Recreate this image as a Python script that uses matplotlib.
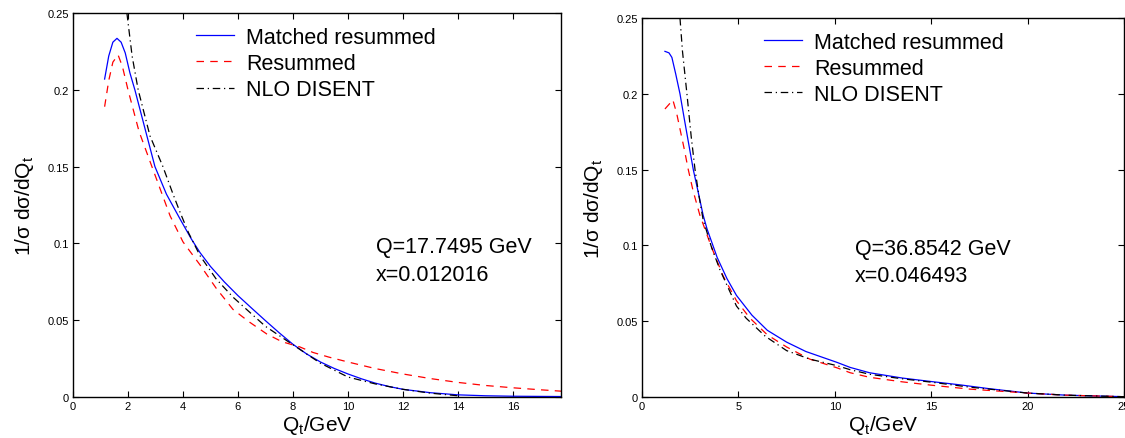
import matplotlib
matplotlib.use("Agg")
import matplotlib.pyplot as plt
from matplotlib.ticker import FormatStrFormatter

plt.rcParams['font.family'] = ['Liberation Sans', 'DejaVu Sans']
plt.rcParams['mathtext.default'] = 'regular'

# ---- Left panel data (Q=17.7495 GeV) ----
l_matched_x = [1.15, 1.3, 1.45, 1.6, 1.75, 1.9, 2.07, 2.25, 2.6, 2.98, 3.4, 3.89, 4.3, 4.62, 5.0, 5.5, 6.0,
               6.5, 7.0, 7.5, 8.0, 8.5, 9.0, 9.5, 10.0, 10.5, 11.0, 11.5, 12.0, 13.0, 14.0, 15.0, 16.0, 17.75]
l_matched_y = [0.207, 0.222, 0.231, 0.2335, 0.231, 0.224, 0.211, 0.200, 0.176, 0.150, 0.132, 0.116, 0.103,
               0.094, 0.085, 0.075, 0.066, 0.0578, 0.0497, 0.0418, 0.0343, 0.028, 0.0228, 0.0186, 0.015,
               0.0118, 0.009, 0.0068, 0.005, 0.0028, 0.0014, 0.0008, 0.0005, 0.0003]
l_resum_x = [1.15, 1.3, 1.45, 1.64, 1.8, 2.0, 2.4, 2.87, 3.53, 4.0, 4.62, 5.2, 5.82, 6.4, 7.05, 7.6,
             8.25, 8.73, 9.3, 10.0, 11.0, 12.0, 13.0, 14.0, 15.0, 16.0, 17.0, 17.75]
l_resum_y = [0.189, 0.206, 0.218, 0.2227, 0.215, 0.200, 0.173, 0.150, 0.118, 0.101, 0.086, 0.071,
             0.057, 0.049, 0.041, 0.036, 0.0326, 0.029, 0.026, 0.0228, 0.0185, 0.015, 0.012, 0.0095, 0.0075,
             0.006, 0.0047, 0.0038]
l_nlo_x = [1.96, 2.15, 2.37, 2.8, 3.27, 3.64, 3.9, 4.2, 4.62, 5.2, 5.82, 6.5, 7.0, 7.5, 8.0, 8.25, 9.0, 10.0,
           11.0, 12.0, 13.0, 14.0]
l_nlo_y = [0.25, 0.222, 0.200, 0.170, 0.150, 0.132, 0.120, 0.107, 0.092, 0.077, 0.065, 0.054, 0.046, 0.040,
           0.034, 0.031, 0.022, 0.013, 0.0085, 0.005, 0.0025, 0.0008]

# ---- Right panel data (Q=36.8542 GeV) ----
r_matched_x = [1.19, 1.4, 1.55, 1.75, 1.97, 2.2, 2.45, 2.66, 2.9, 3.17, 3.37, 3.9, 4.41, 4.9, 5.7, 6.5, 7.5,
               8.5, 10.1, 10.8, 11.8, 13.5, 15.0, 16.5, 18.0, 20.0, 22.0, 25.0]
r_matched_y = [0.228, 0.227, 0.224, 0.213, 0.200, 0.183, 0.165, 0.150, 0.136, 0.120, 0.111, 0.092, 0.078,
               0.067, 0.054, 0.044, 0.0362, 0.030, 0.0229, 0.0195, 0.016, 0.0125, 0.0102, 0.008, 0.0055,
               0.0026, 0.0012, 0.0002]
r_resum_x = [1.19, 1.4, 1.6, 1.8, 2.0, 2.2, 2.4, 2.65, 3.0, 3.6, 4.2, 4.9, 5.6, 6.5, 7.5, 8.7, 10.1, 10.8,
             11.8, 13.5, 15.0, 17.0, 20.0, 22.0, 25.0]
r_resum_y = [0.190, 0.193, 0.196, 0.187, 0.175, 0.163, 0.150, 0.136, 0.120, 0.099, 0.080, 0.0635, 0.052,
             0.041, 0.033, 0.025, 0.0193, 0.0160, 0.013, 0.010, 0.0078, 0.0052, 0.0026, 0.0012, 0.0002]
r_nlo_x = [1.97, 2.1, 2.33, 2.55, 2.75, 2.95, 3.17, 3.6, 4.04, 4.9, 5.4, 6.4, 7.5, 8.7, 10.1, 10.8, 11.8,
           13.5, 15.0, 17.0, 20.0, 22.0, 25.0]
r_nlo_y = [0.25, 0.228, 0.200, 0.172, 0.150, 0.133, 0.117, 0.099, 0.084, 0.060, 0.052, 0.040, 0.0306, 0.025,
           0.0207, 0.018, 0.015, 0.012, 0.0098, 0.0065, 0.0026, 0.0012, 0.0002]

legend_labels = ['Matched resummed', 'Resummed', 'NLO DISENT']
left_info = ['Q=17.7495 GeV', 'x=0.012016']
right_info = ['Q=36.8542 GeV', 'x=0.046493']
left_xticks = [0, 2, 4, 6, 8, 10, 12, 14, 16]
right_xticks = [0, 5, 10, 15, 20, 25]
yticks = [0, 0.05, 0.1, 0.15, 0.2, 0.25]

fig = plt.figure(figsize=(11.25, 4.39), dpi=100)
axL = fig.add_axes([73/1125, 41/439, 488/1125, 384/439])
axR = fig.add_axes([642/1125, 41/439, 482/1125, 379/439])

def style(ax, xlim, xticks, info, info_x, leg_x, leg_y):
    ax.set_xlim(*xlim)
    ax.set_ylim(0, 0.25)
    ax.set_xticks(xticks)
    ax.set_yticks(yticks)
    ax.yaxis.set_major_formatter(FormatStrFormatter('%g'))
    ax.tick_params(direction='in', top=True, right=True, labelsize=8, length=4, width=0.8, pad=3)
    for s in ax.spines.values():
        s.set_linewidth(1.0)
    ax.set_xlabel('Q$_t$/GeV', fontsize=15, labelpad=1)
    ax.set_ylabel('1/σ dσ/dQ$_t$', fontsize=15, labelpad=8)
    ax.text(info_x, 0.393, info[0], transform=ax.transAxes, fontsize=15.5, va='center')
    ax.text(info_x, 0.320, info[1], transform=ax.transAxes, fontsize=15.5, va='center')
    ax.legend(legend_labels, loc='upper left', bbox_to_anchor=(leg_x, leg_y), frameon=False,
              fontsize=15.5, handlelength=1.77, handletextpad=0.56, labelspacing=0.24, borderpad=0,
              borderaxespad=0)

axL.plot(l_matched_x, l_matched_y, color='#0000ff', lw=0.9, ls='-')
axL.plot(l_resum_x, l_resum_y, color='#ff0000', lw=0.9, ls=(0, (6, 5)))
axL.plot(l_nlo_x, l_nlo_y, color='black', lw=0.9, ls=(0, (6, 3, 1, 3)))
style(axL, (0, 17.7495), left_xticks, left_info, 0.621, 0.252, 0.964)

axR.plot(r_matched_x, r_matched_y, color='#0000ff', lw=0.9, ls='-')
axR.plot(r_resum_x, r_resum_y, color='#ff0000', lw=0.9, ls=(0, (6, 5)))
axR.plot(r_nlo_x, r_nlo_y, color='black', lw=0.9, ls=(0, (6, 3, 1, 3)))
style(axR, (0, 25), right_xticks, right_info, 0.442, 0.253, 0.964)

fig.savefig('out.png', dpi=100)
